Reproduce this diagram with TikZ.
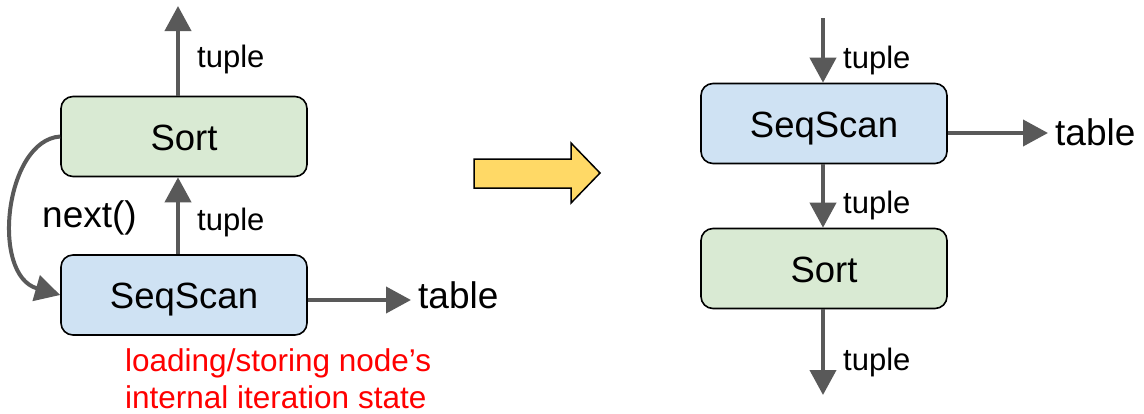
\documentclass[tikz,border=0pt]{standalone}
\usepackage{fontspec}
\setmainfont{Liberation Sans}
\usetikzlibrary{arrows.meta}
\definecolor{flowgray}{HTML}{595959}
\definecolor{sortgreen}{HTML}{D9EAD3}
\definecolor{scanblue}{HTML}{CFE2F3}
\definecolor{swapyellow}{HTML}{FFD966}

\begin{document}
\begin{tikzpicture}[x=1pt, y=-1pt,
    opbox/.style={draw=black, line width=1.6pt, rounded corners=12pt,
      minimum width=246pt, minimum height=80pt, text height=27pt, text depth=0pt,
      font=\fontsize{36.5}{40}\selectfont},
    flow/.style={draw=flowgray, line width=4pt, -{Triangle[length=25pt,width=26pt]}},
    small/.style={font=\fontsize{31}{36}\selectfont, inner sep=0pt, anchor=base west},
    big/.style={font=\fontsize{37}{42}\selectfont, inner sep=0pt, anchor=base west}]
    \useasboundingbox (0,0) rectangle (1144,413);

    % Left: Sort pulls from SeqScan
    \node[opbox, fill=sortgreen] (sortL) at (184,136.5) {Sort};
    \node[opbox, fill=scanblue] (scanL) at (184,295) {SeqScan};
    \coordinate (outL) at (178,6);
    \coordinate (tabL) at (411,300);
    \draw[flow] (sortL.north -| outL) -- (outL);
    \draw[flow] (scanL.north -| outL) -- (sortL.south -| outL);
    \draw[flow] (scanL.east |- tabL) -- (tabL);
    \draw[flow] (sortL.west) .. controls (5,140) and (-10,275) .. (scanL.west);

    % Left: labels
    \node[small] (tupA) at (197,67) {tuple};
    \node[small] (tupB) at (197,230) {tuple};
    \node[big] (nextL) at (42,227) {next()};
    \node[big] (tableL) at (418,308) {table};
    \node[anchor=north west, align=left, inner sep=0pt, text=red,
      font=\fontsize{31.5}{37}\selectfont] (stateL) at (125,348)
      {loading/storing node’s\\internal iteration state};

    % Big arrow
    \draw[fill=swapyellow, line width=1.5pt, line join=miter]
      (474,159) -- (571,159) -- (571,143) -- (600,173) -- (571,203)
      -- (571,188) -- (474,188) -- cycle;

    % Right: SeqScan pushes into Sort
    \node[opbox, fill=scanblue] (scanR) at (824,123.5) {SeqScan};
    \node[opbox, fill=sortgreen] (sortR) at (824,268.5) {Sort};
    \coordinate (inR) at (823,18);
    \coordinate (outR) at (823,395);
    \coordinate (tabR) at (1048,133);
    \draw[flow] (inR) -- (scanR.north -| inR);
    \draw[flow] (scanR.south -| inR) -- (sortR.north -| inR);
    \draw[flow] (sortR.south -| inR) -- (outR);
    \draw[flow] (scanR.east |- tabR) -- (tabR);

    % Right: labels
    \node[small] (tupC) at (843,68) {tuple};
    \node[small] (tupD) at (843,213) {tuple};
    \node[small] (tupE) at (843,370) {tuple};
    \node[big] (tableR) at (1055,145) {table};
\end{tikzpicture}
\end{document}
